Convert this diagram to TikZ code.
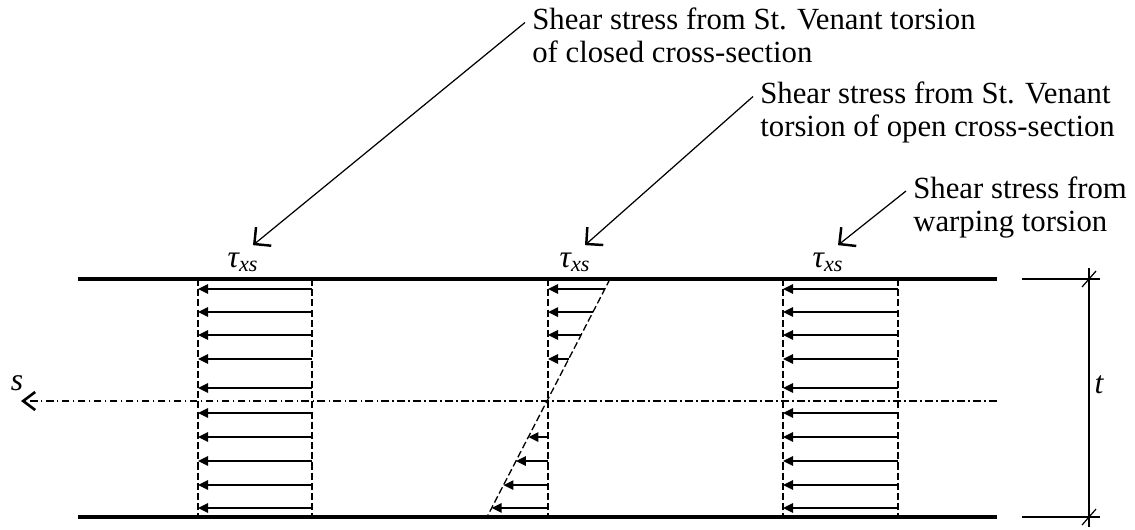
\documentclass[tikz,border=0pt]{standalone}
\usepackage{fontspec}
\setmainfont{Liberation Serif}
\usetikzlibrary{arrows.meta, calc}
\tikzset{
  flange/.style={line width=2.2pt},
  axisline/.style={line width=0.7pt, dash pattern=on 4.5pt off 1.8pt on 1pt off 1.8pt},
  bound/.style={line width=0.75pt, dash pattern=on 4pt off 1.8pt},
  stress/.style={line width=0.85pt, -{Triangle[length=2mm, width=1.9mm]}},
  leader/.style={line width=0.7pt, -{Straight Barb[length=2.4mm, width=4.8mm, line width=1.4pt]}},
  note/.style={anchor=north west, align=left, inner sep=0pt, font=\fontsize{17.5}{19}\selectfont},
  sym/.style={inner sep=0pt, font=\fontsize{18}{19}\selectfont\itshape},
  dim/.style={line width=0.7pt}
}

\begin{document}
\begin{tikzpicture}
\useasboundingbox (0,0) rectangle (22.7,-10.58);
% flanges of the wall
\coordinate (TL) at (1.56,-5.58);
\coordinate (TR) at (19.94,-5.58);
\coordinate (BL) at (1.56,-10.34);
\coordinate (BR) at (19.94,-10.34);
\draw[flange] (TL) -- (TR);
\draw[flange] (BL) -- (BR);
% centre line with s axis
\coordinate (CR) at (19.94,-8.02);
\coordinate (CL) at (0.42,-8.02);
\draw[axisline, -{Straight Barb[length=2.4mm, width=3.6mm, line width=1.5pt]}] (CR) -- (CL);
\node[sym] (s) at (0.34,-7.66) {s};
% constant distributions
\foreach \xa/\xb in {3.96/6.24, 15.66/17.96} {
  \draw[bound] (\xa,-5.58) -- (\xa,-10.34);
  \draw[bound] (\xb,-5.58) -- (\xb,-10.34);
  \foreach \y in {-5.78,-6.24,-6.70,-7.18,-7.76,-8.26,-8.74,-9.22,-9.70,-10.16}
    \draw[stress] (\xb,\y) -- (\xa,\y);
}
% linear distribution
\coordinate (mT) at (10.96,-5.58);
\coordinate (mB) at (10.96,-10.34);
\coordinate (sT) at (12.2,-5.58);
\coordinate (sB) at (9.74,-10.34);
\draw[bound] (mT) -- (mB);
\draw[bound] (sT) -- (sB);
\foreach \f in {0.042,0.139,0.235,0.336} {
  \path ($(sT)!\f!(sB)$) coordinate (p);
  \draw[stress] (p) -- (p -| mT);
}
\foreach \f in {0.664,0.765,0.866,0.962} {
  \path ($(sT)!\f!(sB)$) coordinate (p);
  \draw[stress] (p -| mT) -- (p);
}
% thickness
\coordinate (dT) at (21.78,-5.58);
\coordinate (dB) at (21.78,-10.34);
\draw[dim] (20.44,-5.58) -- (22.0,-5.58);
\draw[dim] (20.44,-10.34) -- (22.0,-10.34);
\draw[dim] (21.78,-5.36) -- (21.78,-10.54);
\draw[dim] ($(dT)+(-0.14,-0.16)$) -- ($(dT)+(0.14,0.16)$);
\draw[dim] ($(dB)+(-0.14,-0.16)$) -- ($(dB)+(0.14,0.16)$);
\node[sym] (t) at (21.98,-7.7) {t};
% stress symbols
\node[sym, anchor=base] (tau1) at (4.86,-5.34) {τ\textsubscript{xs}};
\node[sym, anchor=base] (tau2) at (11.5,-5.34) {τ\textsubscript{xs}};
\node[sym, anchor=base] (tau3) at (16.56,-5.34) {τ\textsubscript{xs}};
% notes
\node[note] (c1) at (10.64,-0.15) {Shear stress from St. Venant torsion\\of closed cross-section};
\node[note] (c2) at (15.2,-1.63) {Shear stress from St. Venant\\torsion of open cross-section};
\node[note] (c3) at (18.26,-3.52) {Shear stress from\\warping torsion};
\draw[leader] ([shift={(-0.14,-0.3)}]c1.north west) -- ([shift={(0.2,0.14)}]tau1.north);
\draw[leader] ([shift={(-0.14,-0.3)}]c2.north west) -- ([shift={(0.2,0.14)}]tau2.north);
\draw[leader] ([shift={(-0.14,-0.3)}]c3.north west) -- ([shift={(0.2,0.14)}]tau3.north);
\end{tikzpicture}
\end{document}
